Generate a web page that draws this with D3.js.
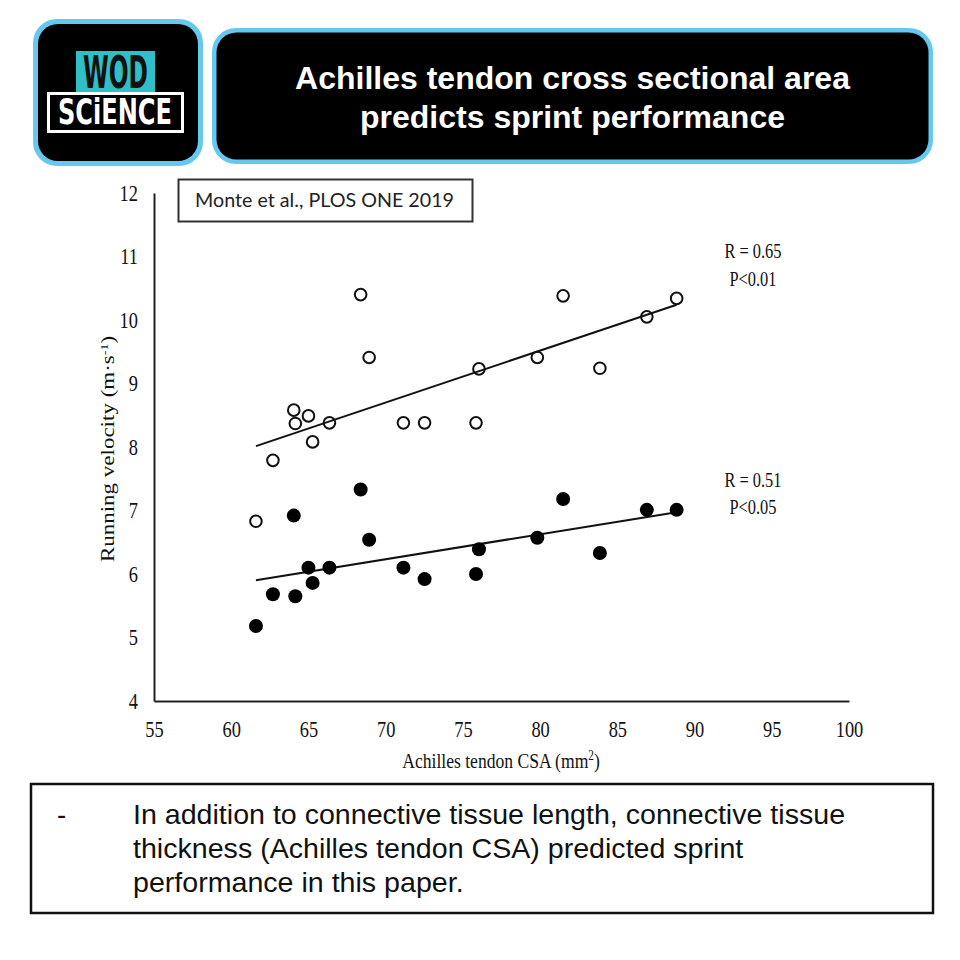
<!DOCTYPE html>
<html>
<head>
<meta charset="utf-8">
<script src="https://cdn.jsdelivr.net/npm/d3@7"></script>
<style>
  body { margin: 0; background: #fff; }
  svg { display: block; }
</style>
</head>
<body>
<div id="chart"></div>
<script>
// Achilles tendon CSA (mm2), one value per subject
const csa = [61.6, 62.7, 64.05, 64.15, 65.0, 65.27, 66.36, 68.38, 68.93, 71.15, 72.52, 75.85, 76.04, 79.82, 81.49, 83.87, 86.91, 88.84];
// running velocity (m/s), open circles (upper series)
const velOpen = [6.83, 7.79, 8.58, 8.37, 8.49, 8.08, 8.38, 10.40, 9.41, 8.38, 8.38, 8.38, 9.23, 9.41, 10.38, 9.24, 10.05, 10.34];
// running velocity (m/s), filled circles (lower series)
const velFilled = [5.18, 5.68, 6.92, 5.65, 6.10, 5.86, 6.10, 7.33, 6.54, 6.10, 5.92, 6.00, 6.39, 6.57, 7.18, 6.33, 7.01, 7.01];

const xTicks = [55, 60, 65, 70, 75, 80, 85, 90, 95, 100];
const yTicks = [4, 5, 6, 7, 8, 9, 10, 11, 12];
const statsOpen = ["R = 0.65", "P<0.01"];
const statsFilled = ["R = 0.51", "P<0.05"];

const titleLines = ["Achilles tendon cross sectional area", "predicts sprint performance"];
const citation = "Monte et al., PLOS ONE 2019";
const noteLines = [
  "In addition to connective tissue length, connective tissue",
  "thickness (Achilles tendon CSA) predicted sprint",
  "performance in this paper."
];

const W = 960, H = 960;
const serif = "'Liberation Serif', 'Times New Roman', serif";
const sans = "'Liberation Sans', Arial, sans-serif";
const skyBlue = "#66c7ef";

const svg = d3.select("#chart").append("svg")
    .attr("width", W)
    .attr("height", H);

svg.append("rect").attr("width", W).attr("height", H).attr("fill", "#fff");

// ---- header: logo ----
const logo = svg.append("g");
logo.append("rect")
    .attr("x", 33).attr("y", 19).attr("width", 170).attr("height", 147)
    .attr("rx", 24).attr("fill", skyBlue);
logo.append("rect")
    .attr("x", 38).attr("y", 24).attr("width", 160).attr("height", 137)
    .attr("rx", 20).attr("fill", "#000");
logo.append("rect")
    .attr("x", 76).attr("y", 51).attr("width", 79).attr("height", 41)
    .attr("fill", "#2fbfc7");
logo.append("text")
    .attr("x", 83).attr("y", 88)
    .attr("textLength", 65).attr("lengthAdjust", "spacingAndGlyphs")
    .style("font-family", "'DejaVu Sans Condensed', 'DejaVu Sans', sans-serif")
    .style("font-weight", "bold").style("font-size", "44px")
    .attr("fill", "#111")
    .text("WOD");
logo.append("rect")
    .attr("x", 48.5).attr("y", 93.5).attr("width", 134).attr("height", 38)
    .attr("fill", "#000").attr("stroke", "#fff").attr("stroke-width", 3);
logo.append("text")
    .attr("x", 58).attr("y", 124)
    .attr("textLength", 114).attr("lengthAdjust", "spacingAndGlyphs")
    .style("font-family", "'DejaVu Sans Condensed', 'DejaVu Sans', sans-serif")
    .style("font-weight", "bold").style("font-size", "35px")
    .attr("fill", "#fff")
    .text("SCiENCE");

// ---- header: title box ----
svg.append("rect")
    .attr("x", 212).attr("y", 28).attr("width", 721).attr("height", 136)
    .attr("rx", 24).attr("fill", skyBlue);
svg.append("rect")
    .attr("x", 216.5).attr("y", 32.5).attr("width", 712).attr("height", 127)
    .attr("rx", 20).attr("fill", "#000");
svg.selectAll(".title")
    .data(titleLines)
    .join("text")
    .attr("class", "title")
    .attr("x", 572.5)
    .attr("y", (d, i) => 89 + i * 39)
    .attr("text-anchor", "middle")
    .style("font-family", sans).style("font-weight", "bold").style("font-size", "32px")
    .attr("fill", "#fff")
    .text(d => d);

// ---- chart ----
const x = d3.scaleLinear().domain([55, 100]).range([154, 849]);
const y = d3.scaleLinear().domain([4, 12]).range([701, 193]);

const squish = "scale(0.8,1)";

const xAxis = svg.append("g")
    .attr("transform", `translate(0,${y(4)})`)
    .call(d3.axisBottom(x).tickValues(xTicks).tickSize(0).tickPadding(20).tickSizeOuter(0));
const yAxis = svg.append("g")
    .attr("transform", `translate(${x(55)},0)`)
    .call(d3.axisLeft(y).tickValues(yTicks).tickSize(0).tickPadding(20).tickSizeOuter(0));

[xAxis, yAxis].forEach(ax => {
    ax.select(".domain").attr("stroke", "#222").attr("stroke-width", 2);
    ax.selectAll(".tick text")
        .attr("transform", squish)
        .style("font-family", serif).style("font-size", "23px")
        .attr("fill", "#111");
});

// axis titles
const xTitle = svg.append("text")
    .attr("transform", `translate(501,768) ${squish}`)
    .attr("text-anchor", "middle")
    .style("font-family", serif).style("font-size", "22px")
    .attr("fill", "#111");
xTitle.append("tspan").text("Achilles tendon CSA (mm");
xTitle.append("tspan").attr("dy", -8).style("font-size", "14px").text("2");
xTitle.append("tspan").attr("dy", 8).text(")");

const yTitle = svg.append("text")
    .attr("transform", "translate(114,449) rotate(-90) scale(1,0.8)")
    .attr("text-anchor", "middle")
    .style("font-family", serif).style("font-size", "23px")
    .attr("fill", "#111");
yTitle.append("tspan").text("Running velocity (m\u00b7s");
yTitle.append("tspan").attr("dy", -8).style("font-size", "14px").text("-1");
yTitle.append("tspan").attr("dy", 8).text(")");

// citation box
svg.append("rect")
    .attr("x", 178.5).attr("y", 179.5).attr("width", 294).attr("height", 42)
    .attr("fill", "#fff").attr("stroke", "#333").attr("stroke-width", 2);
svg.append("text")
    .attr("x", 195).attr("y", 207)
    .attr("textLength", 259).attr("lengthAdjust", "spacingAndGlyphs")
    .style("font-family", "Lato, 'Open Sans', sans-serif").style("font-size", "19px")
    .attr("fill", "#222")
    .text(citation);

// least squares fit from the data
function fitLine(xs, ys) {
    const mx = d3.mean(xs), my = d3.mean(ys);
    const sxy = d3.sum(xs, (v, i) => (v - mx) * (ys[i] - my));
    const sxx = d3.sum(xs, v => (v - mx) * (v - mx));
    const slope = sxy / sxx;
    const x0 = d3.min(xs), x1 = d3.max(xs);
    return [[x0, my + slope * (x0 - mx)], [x1, my + slope * (x1 - mx)]];
}

const line = d3.line()
    .x(d => x(d[0]))
    .y(d => y(d[1]));

svg.selectAll(".fit")
    .data([fitLine(csa, velOpen), fitLine(csa, velFilled)])
    .join("path")
    .attr("class", "fit")
    .attr("d", line)
    .attr("fill", "none")
    .attr("stroke", "#111")
    .attr("stroke-width", 2);

// points
svg.selectAll(".open")
    .data(csa.map((c, i) => [c, velOpen[i]]))
    .join("circle")
    .attr("class", "open")
    .attr("cx", d => x(d[0]))
    .attr("cy", d => y(d[1]))
    .attr("r", 5.8)
    .attr("fill", "none")
    .attr("stroke", "#111")
    .attr("stroke-width", 2);

svg.selectAll(".filled")
    .data(csa.map((c, i) => [c, velFilled[i]]))
    .join("circle")
    .attr("class", "filled")
    .attr("cx", d => x(d[0]))
    .attr("cy", d => y(d[1]))
    .attr("r", 7)
    .attr("fill", "#000");

// stats labels
function statLabels(lines, y0) {
    svg.selectAll(null)
        .data(lines)
        .join("text")
        .attr("transform", (d, i) => `translate(753,${y0 + i * 27.5}) scale(0.82,1)`)
        .attr("text-anchor", "middle")
        .style("font-family", serif).style("font-size", "20px")
        .attr("fill", "#111")
        .text(d => d);
}
statLabels(statsOpen, 258);
statLabels(statsFilled, 486.5);

// ---- bottom note ----
svg.append("rect")
    .attr("x", 31).attr("y", 784).attr("width", 902).attr("height", 129)
    .attr("fill", "#fff").attr("stroke", "#111").attr("stroke-width", 2.5);
svg.append("text")
    .attr("x", 57).attr("y", 824)
    .style("font-family", sans).style("font-size", "27.5px")
    .attr("fill", "#111")
    .text("-");
svg.selectAll(".note")
    .data(noteLines)
    .join("text")
    .attr("class", "note")
    .attr("transform", (d, i) => `translate(133,${824 + i * 34}) scale(1.04,1)`)
    .style("font-family", sans).style("font-size", "27.5px")
    .attr("fill", "#111")
    .text(d => d);
</script>
</body>
</html>
